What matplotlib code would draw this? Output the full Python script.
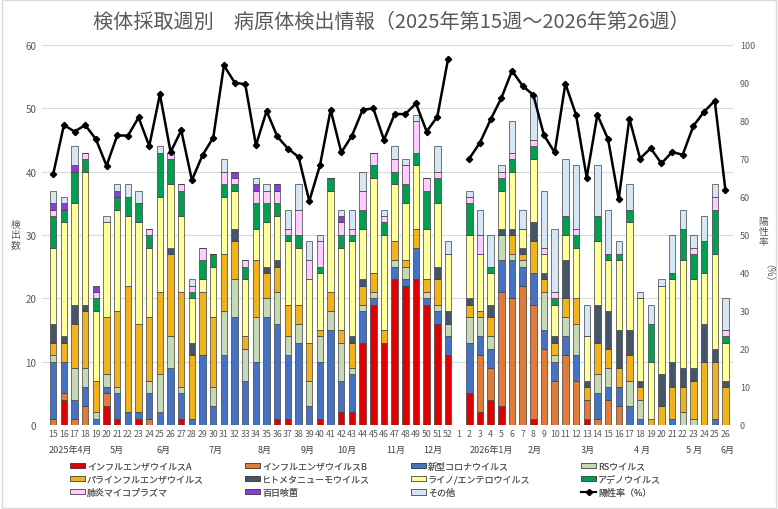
import numpy as np
import matplotlib
matplotlib.use('Agg')
import matplotlib.pyplot as plt
from matplotlib.patches import Patch, Rectangle
from matplotlib.lines import Line2D
from matplotlib.transforms import blended_transform_factory

plt.rcParams['font.family'] = ['Noto Sans CJK JP', 'DejaVu Sans']

# weeks: 2025 wk15-52, then 2026 wk1-26
weeks = list(range(15, 53)) + list(range(1, 27))

flu_a = [0, 4, 0, 0, 0, 3, 1, 0, 1, 0,
         0, 0, 1, 0, 0, 0, 0, 0, 0, 0,
         0, 1, 1, 0, 0, 1, 0, 2, 2, 13,
         19, 13, 23, 22, 23, 19, 16, 11,
         0, 5, 2, 4, 3, 0, 0, 1, 0, 0,
         0, 0, 1, 0, 0, 0, 0, 0, 0, 0,
         0, 0, 0, 0, 0, 0]
flu_b = [1, 1, 1, 3, 0, 2, 0, 0, 0, 1,
         0, 0, 0, 0, 0, 0, 0, 0, 0, 0,
         0, 0, 0, 0, 0, 0, 0, 0, 0, 0,
         0, 0, 0, 0, 0, 0, 0, 0,
         0, 0, 9, 5, 18, 20, 22, 18, 12, 7,
         11, 7, 3, 1, 4, 3, 0, 0, 0, 0,
         0, 0, 0, 0, 0, 0]
covid = [9, 5, 3, 3, 1, 1, 4, 2, 1, 4,
         2, 9, 4, 1, 11, 3, 11, 17, 7, 10,
         17, 15, 10, 13, 3, 9, 15, 5, 6, 5,
         1, 0, 2, 1, 5, 1, 2, 3,
         0, 8, 3, 3, 5, 6, 3, 5, 3, 3,
         3, 4, 0, 4, 2, 3, 3, 1, 0, 0,
         1, 0, 0, 0, 1, 0]
rsv = [1, 0, 5, 3, 1, 2, 1, 0, 0, 2,
       6, 5, 1, 0, 0, 3, 7, 6, 5, 7,
       3, 5, 3, 3, 4, 4, 3, 6, 1, 1,
       1, 0, 1, 2, 0, 1, 1, 2,
       0, 4, 3, 2, 4, 1, 1, 0, 6, 1,
       3, 5, 0, 3, 3, 0, 4, 3, 0, 0,
       0, 2, 1, 0, 0, 0]
para = [2, 3, 7, 9, 5, 9, 12, 20, 14, 10,
        13, 13, 15, 10, 10, 11, 9, 6, 2, 9,
        4, 4, 5, 3, 6, 1, 3, 2, 4, 3,
        3, 2, 3, 1, 3, 2, 4, 0,
        0, 2, 1, 3, 0, 3, 1, 5, 2, 2,
        3, 4, 2, 5, 3, 3, 4, 2, 1, 3,
        5, 4, 6, 10, 9, 6]
hmpv = [3, 1, 3, 1, 0, 0, 0, 0, 0, 0,
        0, 1, 0, 2, 0, 0, 0, 2, 0, 0,
        1, 1, 0, 0, 0, 0, 0, 0, 1, 1,
        0, 0, 0, 0, 0, 0, 2, 2,
        0, 1, 0, 2, 1, 1, 1, 3, 1, 1,
        6, 0, 1, 6, 6, 6, 4, 1, 0, 5,
        4, 3, 2, 6, 2, 1]
rhino = [12, 18, 16, 21, 11, 15, 16, 11, 16, 11,
         15, 10, 12, 7, 2, 8, 9, 6, 9, 5,
         7, 7, 10, 9, 10, 9, 16, 13, 15, 8,
         15, 15, 9, 9, 10, 8, 10, 9,
         0, 10, 9, 5, 6, 9, 3, 10, 3, 5,
         4, 8, 7, 10, 8, 11, 17, 13, 9, 14,
         13, 17, 14, 8, 15, 6]
adeno = [5, 2, 5, 2, 2, 0, 2, 3, 3, 2,
         7, 4, 4, 1, 3, 2, 2, 1, 2, 4,
         3, 2, 1, 2, 0, 1, 2, 2, 1, 3,
         2, 2, 2, 3, 2, 6, 4, 0,
         0, 5, 0, 1, 2, 2, 0, 2, 0, 1,
         3, 2, 0, 4, 1, 1, 2, 0, 6, 0,
         1, 5, 4, 5, 7, 1]
myco = [1, 0, 0, 1, 1, 0, 0, 0, 0, 1,
        0, 1, 1, 1, 2, 0, 2, 1, 1, 2,
        2, 2, 1, 4, 3, 4, 0, 2, 1, 3,
        2, 1, 2, 3, 5, 2, 1, 0,
        0, 1, 3, 0, 1, 1, 0, 1, 1, 1,
        0, 1, 0, 0, 0, 0, 0, 0, 0, 0,
        0, 0, 1, 0, 2, 1]
pert = [1, 1, 1, 0, 1, 0, 1, 0, 0, 0,
        0, 0, 0, 0, 0, 0, 0, 1, 0, 1,
        0, 1, 0, 0, 0, 0, 0, 1, 0, 0,
        0, 0, 0, 0, 0, 0, 0, 0,
        0, 0, 0, 0, 0, 0, 0, 0, 0, 0,
        0, 0, 0, 0, 0, 0, 0, 0, 0, 0,
        0, 0, 0, 0, 0, 0]
other = [2, 1, 3, 0, 0, 1, 1, 2, 2, 0,
         1, 0, 0, 1, 0, 0, 2, 0, 0, 1,
         1, 0, 3, 4, 3, 1, 0, 1, 3, 3,
         0, 1, 2, 1, 1, 0, 4, 2,
         0, 1, 4, 5, 1, 5, 3, 7, 9, 10,
         9, 10, 5, 8, 7, 2, 4, 1, 3, 1,
         6, 3, 2, 4, 2, 5]
pos_rate = [66.0, 78.9, 77.2, 78.9, 75.2, 68.2, 76.2, 76.1, 80.9, 73.4,
            87.0, 71.8, 77.5, 64.4, 71.0, 75.6, 94.6, 90.1, 89.6, 73.6,
            82.6, 75.9, 72.7, 70.5, 58.9, 68.3, 82.9, 71.7, 76.1, 82.9,
            83.3, 75.0, 81.8, 81.8, 84.6, 77.2, 81.1, 96.2,
            np.nan, 70.1, 74.3, 80.4, 86.0, 93.2, 89.2, 86.8, 76.2, 71.7,
            89.8, 81.6, 65.1, 81.6, 75.2, 59.4, 80.6, 70.1, 72.8, 68.8,
            71.8, 71.1, 78.7, 82.4, 85.3, 61.8]

series_names = ['インフルエンザウイルスA', 'インフルエンザウイルスB', '新型コロナウイルス', 'RSウイルス',
                'パラインフルエンザウイルス', 'ヒトメタニューモウイルス', 'ライノ/エンテロウイルス', 'アデノウイルス',
                '肺炎マイコプラズマ', '百日咳菌', 'その他']
series_vals = [flu_a, flu_b, covid, rsv, para, hmpv, rhino, adeno, myco, pert, other]
colors = ['#E00000', '#E07B39', '#4472C4', '#C5D9B4', '#F2B21B', '#44546A',
          '#FFFF99', '#00A050', '#FFCCFF', '#8E3BDB', '#D6E6F5']

month_pos = [1.6, 6.0, 10.3, 15.2, 19.8, 23.8, 27.5, 32.1, 35.6, 41.1, 45.1, 50.1, 55.2, 60.1, 63.2]
month_lbl = ['2025年4月', '5月', '6月', '7月', '8月', '9月', '10月', '11月', '12月',
             '2026年1月', '2月', '3月', '4 月', '5 月', '6月']

gray = '#595959'
x = np.arange(len(weeks))

fig = plt.figure(figsize=(7.78, 5.10), dpi=100)
fig.patches.append(Rectangle((0.002, 0.002), 0.996, 0.996, transform=fig.transFigure,
                             fill=False, edgecolor='#D9D9D9', linewidth=1))
ax = fig.add_axes([0.054, 0.165, 0.888, 0.745])

bottom = np.zeros(len(weeks))
for name, vals, c in zip(series_names, series_vals, colors):
    v = np.array(vals, dtype=float)
    ax.bar(x, v, 0.6, bottom=bottom, color=c, edgecolor='#404040', linewidth=0.5, zorder=3)
    bottom += v

ax.set_ylim(0, 60)
ax.set_yticks(range(0, 61, 10))
ax.set_xlim(-1.05, 63.7)
ax.set_xticks(x)
ax.set_xticklabels([str(w) for w in weeks], fontsize=6.3, color=gray)
ax.tick_params(axis='x', length=0, pad=3)
ax.tick_params(axis='y', length=0, labelsize=7, labelcolor=gray, pad=4)
ax.grid(axis='y', color='#D9D9D9', linewidth=0.8, zorder=0)
for s in ax.spines.values():
    s.set_visible(False)

trans = blended_transform_factory(ax.transData, ax.transAxes)
for p, lbl in zip(month_pos, month_lbl):
    ax.text(p, -0.065, lbl, transform=trans, ha='center', va='center', fontsize=6.5, color='#404040')

ax2 = ax.twinx()
ax2.plot(x, pos_rate, color='black', linewidth=1.8, marker='D', markersize=3.2, zorder=5)
ax2.set_ylim(0, 100)
ax2.set_yticks(range(0, 101, 10))
ax2.tick_params(axis='y', length=0, labelsize=6.5, labelcolor=gray, pad=5)
for s in ax2.spines.values():
    s.set_visible(False)

fig.text(0.02, 0.54, '検\n出\n数', ha='center', va='center', fontsize=7, color=gray, linespacing=1.0)
fig.text(0.981, 0.545, '陽\n性\n率', ha='center', va='center', fontsize=7, color=gray, linespacing=1.0)
fig.text(0.981, 0.455, '（%）', ha='center', va='center', fontsize=7, color=gray, rotation=-90)

fig.text(0.503, 0.957, '検体採取週別　病原体検出情報（2025年第15週～2026年第26週）',
         ha='center', va='center', fontsize=14.5, color=gray)

patches = [Patch(facecolor=c, edgecolor='#404040', linewidth=0.5, label=n)
           for n, c in zip(series_names, colors)]
line_h = Line2D([], [], color='black', linewidth=1.5, marker='D', markersize=3, label='陽性率（%）')
handles = patches + [line_h]

# one legend per column so the column starts match the reference
col_x = [0.085, 0.31, 0.523, 0.742]
for j, cx in enumerate(col_x):
    hs = [handles[j], handles[j + 4], handles[j + 8]]
    leg = fig.legend(hs, [h.get_label() for h in hs], loc='upper left', bbox_to_anchor=(cx, 0.1),
                     ncol=1, frameon=False, fontsize=6.5, handlelength=1.7, handleheight=0.6,
                     handletextpad=0.2, labelspacing=0.45, labelcolor=gray, borderaxespad=0.0)
    fig.add_artist(leg)

fig.savefig('out.png', dpi=100)
